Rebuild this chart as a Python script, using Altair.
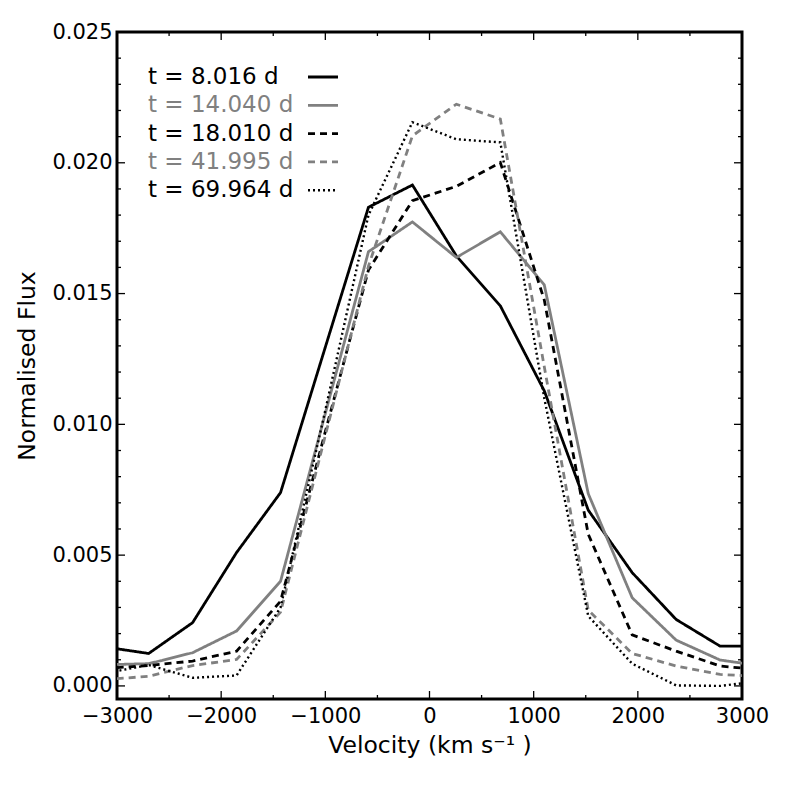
import altair as alt
import pandas as pd

# ---- data ----
velocity = [-3118, -2696, -2274, -1852, -1430, -1008, -586, -164, 258, 680,
            1102, 1524, 1946, 2368, 2790, 3212]

flux_8 = [0.00149, 0.00124, 0.00242, 0.00510, 0.00739, 0.01285, 0.01830, 0.01915,
          0.01644, 0.01453, 0.01128, 0.00672, 0.00433, 0.00254, 0.00152, 0.00152]
flux_14 = [0.00081, 0.00085, 0.00127, 0.00210, 0.00400, 0.01030, 0.01660, 0.01774,
           0.01638, 0.01736, 0.01533, 0.00735, 0.00337, 0.00175, 0.00099, 0.00075]
flux_18 = [0.00067, 0.00078, 0.00095, 0.00133, 0.00324, 0.00960, 0.01590, 0.01855,
           0.01910, 0.02001, 0.01475, 0.00580, 0.00195, 0.00133, 0.00076, 0.00060]
flux_42 = [0.00024, 0.00037, 0.00078, 0.00101, 0.00282, 0.00945, 0.01605, 0.02103,
           0.02224, 0.02167, 0.01220, 0.00290, 0.00124, 0.00076, 0.00044, 0.00035]
flux_70 = [0.00048, 0.00080, 0.00031, 0.00040, 0.00300, 0.01040, 0.01800, 0.02155,
           0.02090, 0.02078, 0.01100, 0.00267, 0.00085, 0.00002, 0.00000, 0.00020]

labels = ["t = 8.016 d", "t = 14.040 d", "t = 18.010 d", "t = 41.995 d", "t = 69.964 d"]
series = [flux_8, flux_14, flux_18, flux_42, flux_70]

x_major = [-3000, -2000, -1000, 0, 1000, 2000, 3000]
x_minor = [-2500, -1500, -500, 500, 1500, 2500]
y_major = [0.000, 0.005, 0.010, 0.015, 0.020, 0.025]
y_minor = [0.001, 0.002, 0.003, 0.004, 0.006, 0.007, 0.008, 0.009, 0.011, 0.012,
           0.013, 0.014, 0.016, 0.017, 0.018, 0.019, 0.021, 0.022, 0.023, 0.024]

# ---- styles ----
GRAY = "#808080"
colors = ["black", GRAY, "black", GRAY, "black"]
dashes = [[1, 0], [1, 0], [7, 5], [7, 5], [2, 3]]
widths = [2.8, 2.8, 2.8, 2.8, 2.4]
FONT = "DejaVu Sans"
W, H = 625, 667

xscale = alt.Scale(domain=[-3000, 3000], nice=False, zero=False)
yscale = alt.Scale(domain=[-0.0005, 0.025], nice=False, zero=False)

xaxis = alt.Axis(title="Velocity (km s⁻¹ )", values=x_major, format="d",
                 ticks=False, domain=False, grid=False, labelFontSize=21,
                 labelFont=FONT, labelColor="black", labelPadding=6,
                 labelFlush=False, labelOverlap=False,
                 titleFont=FONT, titleFontSize=23.5, titleFontWeight="normal",
                 titleColor="black", titlePadding=7)
yaxis = alt.Axis(title="Normalised Flux", values=y_major, format=".3f",
                 ticks=False, domain=False, grid=False, labelFontSize=21,
                 labelFont=FONT, labelColor="black", labelPadding=5,
                 labelFlush=False, labelOverlap=False,
                 titleFont=FONT, titleFontSize=23.5, titleFontWeight="normal",
                 titleColor="black", titlePadding=12)

def X(field):
    return alt.X(field, scale=xscale, axis=xaxis)

def Y(field):
    return alt.Y(field, scale=yscale, axis=yaxis)

layers = []
for i, (lab, vals) in enumerate(zip(labels, series)):
    df = pd.DataFrame({"v": velocity, "f": vals})
    layers.append(
        alt.Chart(df).mark_line(color=colors[i], strokeDash=dashes[i],
                                strokeWidth=widths[i], clip=True)
        .encode(x=X("v:Q"), y=Y("f:Q"))
    )

# ticks pointing inwards on all four sides
def xticks(vals, length):
    df = pd.DataFrame({"v": vals})
    bottom = alt.Chart(df).mark_rule(color="black", strokeWidth=1.3).encode(
        x=X("v:Q"), y=alt.value(H), y2=alt.value(H - length))
    top = alt.Chart(df).mark_rule(color="black", strokeWidth=1.3).encode(
        x=X("v:Q"), y=alt.value(0), y2=alt.value(length))
    return [bottom, top]

def yticks(vals, length):
    df = pd.DataFrame({"f": vals})
    left = alt.Chart(df).mark_rule(color="black", strokeWidth=1.3).encode(
        y=Y("f:Q"), x=alt.value(0), x2=alt.value(length))
    right = alt.Chart(df).mark_rule(color="black", strokeWidth=1.3).encode(
        y=Y("f:Q"), x=alt.value(W), x2=alt.value(W - length))
    return [left, right]

layers += xticks(x_major, 8) + xticks(x_minor, 4)
layers += yticks(y_major, 8) + yticks(y_minor, 4)

# legend (no frame), text left, handle right
for i, lab in enumerate(labels):
    yc = 45 + i * 28.3
    ldf = pd.DataFrame({"label": [lab]})
    layers.append(
        alt.Chart(ldf).mark_text(align="left", baseline="middle", fontSize=23,
                                 font=FONT, color=colors[i])
        .encode(x=alt.value(31), y=alt.value(yc), text="label:N")
    )
    layers.append(
        alt.Chart(ldf).mark_rule(color=colors[i], strokeDash=dashes[i],
                                 strokeWidth=widths[i])
        .encode(x=alt.value(191), x2=alt.value(221), y=alt.value(yc))
    )

chart = alt.layer(*layers).properties(
    width=W, height=H,
    background="white",
    autosize=alt.AutoSizeParams(type="none"),
    padding={"left": 109, "top": 24, "right": 30, "bottom": 80},
).configure_view(stroke="black", strokeWidth=3)

chart.save("out.html", embed_options={"renderer": "svg", "actions": False})
